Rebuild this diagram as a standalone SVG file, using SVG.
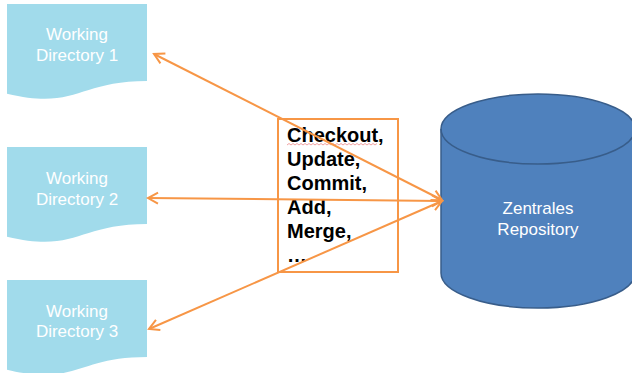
<svg xmlns="http://www.w3.org/2000/svg" width="632" height="373" viewBox="0 0 632 373">
<style>
.doc{fill:#a1dbeb;stroke:none}
.doctext{font-family:"Liberation Sans",Arial,sans-serif;font-size:17px;fill:#ffffff;text-anchor:middle}
.cmd{font-family:"Liberation Sans",Arial,sans-serif;font-size:20px;font-weight:bold;fill:#000000}
.conn{stroke:#f79646;stroke-width:2;fill:none;marker-start:url(#ah);marker-end:url(#ah)}
</style>
<defs>
<marker id="ah" markerUnits="userSpaceOnUse" markerWidth="14" markerHeight="14" viewBox="-12 -7 14 14" refX="0" refY="0" orient="auto-start-reverse">
<path d="M-10,-5.5 L0,0 L-10,5.5" fill="none" stroke="#f79646" stroke-width="2"/>
</marker>
</defs>
<rect width="632" height="373" fill="#ffffff"/>
<g id="wd1">
<path class="doc" d="M7,4 H147 V81 C77,81 77,110.3 7,93.7 Z"/>
<text class="doctext" x="77" y="40">Working</text>
<text class="doctext" x="77" y="61">Directory 1</text>
</g>
<g id="wd2">
<path class="doc" d="M7,147 H147 V224 C77,224 77,253.3 7,236.7 Z"/>
<text class="doctext" x="77" y="184">Working</text>
<text class="doctext" x="77" y="205">Directory 2</text>
</g>
<g id="wd3">
<path class="doc" d="M7,280 H147 V357 C77,357 77,386.3 7,369.7 Z"/>
<text class="doctext" x="77" y="317">Working</text>
<text class="doctext" x="77" y="337">Directory 3</text>
</g>
<g id="repo">
<path d="M441,129 V273 A97,35 0 0 0 635,273 V129 A97,35 0 0 0 441,129 Z" fill="#4f81bd" stroke="#385d8a" stroke-width="1.5"/>
<path d="M441,129 A97,35 0 0 0 635,129" fill="none" stroke="#385d8a" stroke-width="1.5"/>
<text class="doctext" x="538" y="214">Zentrales</text>
<text class="doctext" x="538" y="235">Repository</text>
</g>
<g id="commands">
<rect x="278" y="119" width="120" height="153" fill="none" stroke="#f79646" stroke-width="2"/>
<text class="cmd" x="287" y="142">Checkout,</text>
<path d="M287,145 l2,-1.5 l2,1.5 l2,-1.5 l2,1.5 l2,-1.5 l2,1.5 l2,-1.5 l2,1.5 l2,-1.5 l2,1.5 l2,-1.5 l2,1.5 l2,-1.5 l2,1.5 l2,-1.5 l2,1.5 l2,-1.5 l2,1.5 l2,-1.5 l2,1.5 l2,-1.5 l2,1.5 l2,-1.5 l2,1.5 l2,-1.5 l2,1.5 l2,-1.5 l2,1.5 l2,-1.5 l2,1.5 l2,-1.5 l2,1.5 l2,-1.5 l2,1.5 l2,-1.5 l2,1.5 l2,-1.5 l2,1.5 l2,-1.5 l2,1.5 l2,-1.5 l2,1.5 l2,-1.5 l2,1.5 l2,-1.5" fill="none" stroke="#e04040" stroke-width="0.7" opacity="0.7"/>
<text class="cmd" x="287" y="166">Update,</text>
<text class="cmd" x="287" y="190">Commit,</text>
<text class="cmd" x="287" y="214">Add,</text>
<text class="cmd" x="287" y="238">Merge,</text>
<text class="cmd" x="287" y="262">…</text>
</g>
<g id="connectors">
<line class="conn" x1="442" y1="200" x2="154" y2="54"/>
<line class="conn" x1="442" y1="201" x2="148" y2="198"/>
<line class="conn" x1="442" y1="201" x2="149" y2="329"/>
</g>
</svg>
